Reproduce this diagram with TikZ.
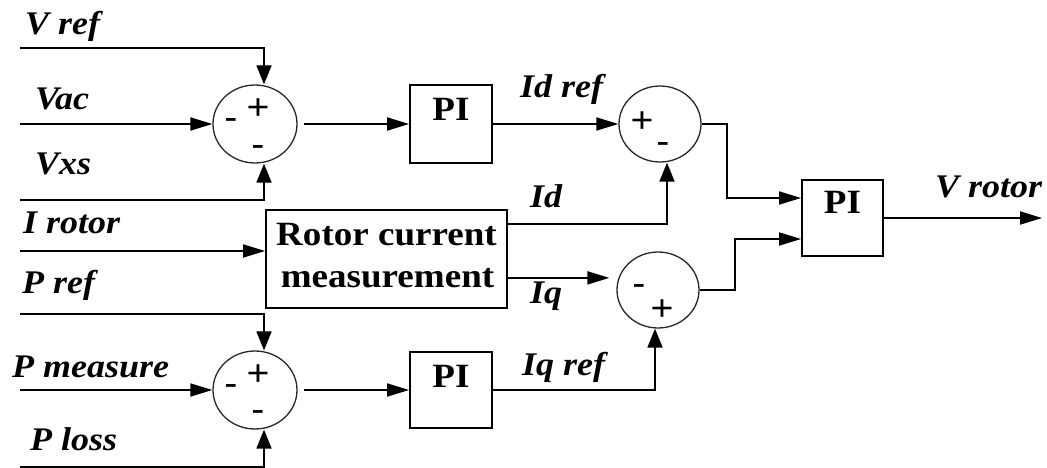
\documentclass[tikz,border=0pt]{standalone}
\usepackage{fontspec}
\usetikzlibrary{arrows.meta,shapes.geometric,calc}
\newfontfamily\labfont{Liberation Serif}[FakeStretch=1.09]
\newfontfamily\sgnfont{Liberation Sans}[FakeStretch=1.09]
\begin{document}
\begin{tikzpicture}[x=1pt,y=-1pt,
  wire/.style={line width=1.8pt},
  ha/.style={-{Triangle[length=22pt,width=13pt]}},
  va/.style={-{Triangle[length=19pt,width=15pt]}},
  sumnode/.style={ellipse, draw=black!85, line width=1.3pt, inner sep=0pt},
  bigsum/.style={sumnode, minimum width=84pt, minimum height=78pt},
  smallsum/.style={sumnode, minimum width=82pt, minimum height=76pt},
  blk/.style={draw, line width=1.8pt, inner sep=0pt},
  lab/.style={anchor=base west, inner sep=0pt, font=\labfont\bfseries\itshape\fontsize{33}{38}\selectfont},
  sgn/.style={inner sep=0pt, font=\sgnfont\fontsize{36}{40}\selectfont},
  blktxt/.style={inner sep=0pt, anchor=base, font=\labfont\bfseries\fontsize{34}{40}\selectfont}
]
\useasboundingbox (0,0) rectangle (1047,468);

% summing junctions
\node[bigsum] (s1) at (255,124) {};
\node[bigsum] (s4) at (255,390) {};
\node[smallsum] (s2) at (660,124) {};
\node[smallsum] (s3) at (658,290) {};

% blocks
\node[blk, minimum width=82pt, minimum height=78pt] (pi1) at (451,124) {};
\node[blk, minimum width=82pt, minimum height=76pt] (pi2) at (451,390) {};
\node[blk, minimum width=81pt, minimum height=76pt] (pi3) at (842.5,218) {};
\node[blk, minimum width=241pt, minimum height=98pt] (rot) at (386.5,259) {};

% block texts
\node[blktxt] (pi1t) at (451,121) {PI};
\node[blktxt] (pi2t) at (451,387) {PI};
\node[blktxt] (pi3t) at (842.5,213) {PI};
\node[blktxt] (rott1) at (386.5,245) {Rotor current};
\node[blktxt] (rott2) at (387.5,287) {measurement};

% signs
\node[sgn] (s1p) at (258,109) {+};
\node[sgn] (s1m) at (231,124) {-};
\node[sgn] (s1b) at (258,151) {-};
\node[sgn] (s4p) at (258,375) {+};
\node[sgn] (s4m) at (231,390) {-};
\node[sgn] (s4b) at (258,416) {-};
\node[sgn] (s2p) at (642,122) {+};
\node[sgn] (s2m) at (663,148) {-};
\node[sgn] (s3m) at (639,290) {-};
\node[sgn] (s3p) at (662,310) {+};

% input/output coordinates
\coordinate (vrefin) at (20,48);
\coordinate (vacin) at (20,124);
\coordinate (vxsin) at (20,200);
\coordinate (irotin) at (20,251);
\coordinate (prefin) at (20,314);
\coordinate (pmin) at (20,390);
\coordinate (plossin) at (20,467);
\coordinate (vdrop) at (264,0);
\coordinate (vout) at (1042,218);
\coordinate (idst) at ([yshift=-15pt]rot.north east);
\coordinate (iqst) at ([yshift=31pt]rot.south east);

% connectors
\draw[wire,va] (vrefin) -| (s1.north -| vdrop);
\draw[wire,ha] (vacin) -- (s1.west);
\draw[wire,va] (vxsin) -| (s1.south -| vdrop);
\draw[wire,ha,shorten <=6pt] (s1.east) -- (pi1.west);
\draw[wire,ha] (pi1.east) -- (s2.west);
\draw[wire,va] (idst) -| ([xshift=7pt]s2.south);
\draw[wire,ha,shorten >=7pt] (iqst) -- (iqst -| s3.west);
\draw[wire,va] (pi2.east) -| ([xshift=-3pt]s3.south);
\draw[wire,ha] (s2.east) -- ++(25,0) |- ([yshift=20pt]pi3.west);
\draw[wire,ha] (s3.east) -- ++(35,0) |- ([yshift=-21pt]pi3.west);
\draw[wire,ha] (pi3.east) -- (vout);
\draw[wire,ha] (irotin) -- (irotin -| rot.west);
\draw[wire,va] (prefin) -| (s4.north -| vdrop);
\draw[wire,ha] (pmin) -- (s4.west);
\draw[wire,va] (plossin) -| (s4.south -| vdrop);
\draw[wire,ha,shorten <=6pt] (s4.east) -- (pi2.west);

% labels
\node[lab] (lvref) at (25,35) {V ref};
\node[lab] (lvac) at (35,110) {Vac};
\node[lab] (lvxs) at (35,175) {Vxs};
\node[lab] (lirot) at (23,233) {I rotor};
\node[lab] (lpref) at (22,293) {P ref};
\node[lab] (lpm) at (12,377) {P measure};
\node[lab] (lploss) at (30,450) {P loss};
\node[lab] (lidref) at (520,98) {Id ref};
\node[lab] (lid) at (530,207) {Id};
\node[lab] (liq) at (530,303) {Iq};
\node[lab] (liqref) at (522,375) {Iq ref};
\node[lab] (lvrot) at (935,197) {V rotor};
\end{tikzpicture}
\end{document}
